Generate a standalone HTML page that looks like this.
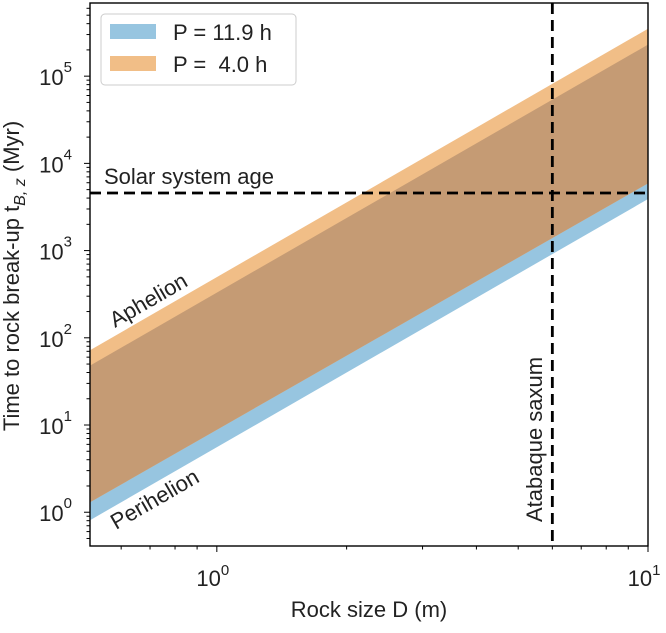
<!DOCTYPE html>
<html><head><meta charset="utf-8"><style>
body{margin:0;background:#fff;}
svg text{font-family:"Liberation Sans",sans-serif;fill:#222;}
</style></head><body>
<svg id="c" width="666" height="628" xmlns="http://www.w3.org/2000/svg"></svg>
<script>
const sizes = [0.508, 10];
const blueLow = [0.81, 3900];
const blueHigh = [48, 230000];
const orangeLow = [1.3, 5900];
const orangeHigh = [72, 350000];
const solarAge = 4570;
const atabaque = 6;
const xTickLabels = ["0","1"];
const yTickLabels = ["0","1","2","3","4","5"];

const L=90,R=648,T=3,B=546;
const xmin=0.508,xmax=10,ymin=0.41,ymax=6.9e5;
function X(v){return L+(Math.log10(v)-Math.log10(xmin))/(Math.log10(xmax)-Math.log10(xmin))*(R-L);}
function Y(v){return B-(Math.log10(v)-Math.log10(ymin))/(Math.log10(ymax)-Math.log10(ymin))*(B-T);}
const svg=document.getElementById('c');const NS='http://www.w3.org/2000/svg';
function mk(t,a,p){const e=document.createElementNS(NS,t);for(const k in a)e.setAttribute(k,a[k]);(p||svg).appendChild(e);return e;}
function band(lo,hi,color,name){
  let d='M'+sizes.map((s,i)=>X(s)+','+Y(lo[i])).join('L');
  for(let i=sizes.length-1;i>=0;i--)d+='L'+X(sizes[i])+','+Y(hi[i]);
  const p=mk('path',{d:d+'Z',fill:color});
  
  
}
band(blueLow,blueHigh,'#97c5e0','band-p-11-9h');
band(orangeLow,orangeHigh,'#f1be87','band-p-4-0h');
const ovLow=sizes.map((s,i)=>Math.max(blueLow[i],orangeLow[i]));
const ovHigh=sizes.map((s,i)=>Math.min(blueHigh[i],orangeHigh[i]));
band(ovLow,ovHigh,'#c59b74','band-overlap');
let h=mk('line',{x1:L,x2:R,y1:Y(solarAge),y2:Y(solarAge),stroke:'#000','stroke-width':2.8,'stroke-dasharray':'11,6'});


let v=mk('line',{x1:X(atabaque),x2:X(atabaque),y1:T,y2:B,stroke:'#000','stroke-width':2.8,'stroke-dasharray':'11,6'});


let f=mk('rect',{x:L,y:T,width:R-L,height:B-T,fill:'none',stroke:'#000','stroke-width':1.4});


for(let e=-1;e<=1;e++)for(let m=1;m<=9;m++){const val=m*Math.pow(10,e);if(val<xmin||val>xmax)continue;
  const x=X(val);mk('line',{x1:x,x2:x,y1:B,y2:B+(m==1?6:3.5),stroke:'#000','stroke-width':1});}
xTickLabels.forEach(s=>{const x=X(Math.pow(10,+s));const t=mk('text',{x:x-4,y:B+40,'font-size':22,'text-anchor':'middle'});t.textContent='10';
  
  
  const sp=mk('tspan',{dy:-11,'font-size':15});sp.textContent=s;t.appendChild(sp);});
for(let e=-1;e<=6;e++)for(let m=1;m<=9;m++){const val=m*Math.pow(10,e);if(val<ymin||val>ymax)continue;
  const y=Y(val);mk('line',{x1:L,x2:L-(m==1?6:3.5),y1:y,y2:y,stroke:'#000','stroke-width':1});}
yTickLabels.forEach(s=>{const y=Y(Math.pow(10,+s));const t=mk('text',{x:L-18,y:y+9,'font-size':22,'text-anchor':'end'});t.textContent='10';
  
  
  const sp=mk('tspan',{dy:-13,'font-size':15});sp.textContent=s;t.appendChild(sp);});
</script>
<svg width="666" height="628" style="position:absolute;left:0;top:0" xmlns="http://www.w3.org/2000/svg">
<text x="369" y="617" font-size="22" text-anchor="middle">Rock size D (m)</text>
<text transform="translate(19,276) rotate(-90)" font-size="22" text-anchor="middle">Time to rock break-up t<tspan font-style="italic" font-size="16" dy="6">B, z</tspan><tspan dy="-6"> (Myr)</tspan></text>
<text x="104" y="184" font-size="22">Solar system age</text>
<text transform="translate(115,328) rotate(-30)" font-size="22">Aphelion</text>
<text transform="translate(116,530) rotate(-30)" font-size="22">Perihelion</text>
<text transform="translate(542,522) rotate(-90)" font-size="22">Atabaque saxum</text>
<g>
<rect x="101" y="14" width="195" height="71" rx="4" fill="#fff" fill-opacity="0.9" stroke="#ccc" stroke-width="1"/>
<rect x="110" y="24" width="46" height="15" fill="#97c5e0"/>
<rect x="110" y="56" width="46" height="15" fill="#f1be87"/>
<text x="173" y="40" font-size="22" xml:space="preserve">P = 11.9 h</text>
<text x="173" y="72" font-size="22" xml:space="preserve">P =  4.0 h</text>
</g>
</svg>
</body></html>
